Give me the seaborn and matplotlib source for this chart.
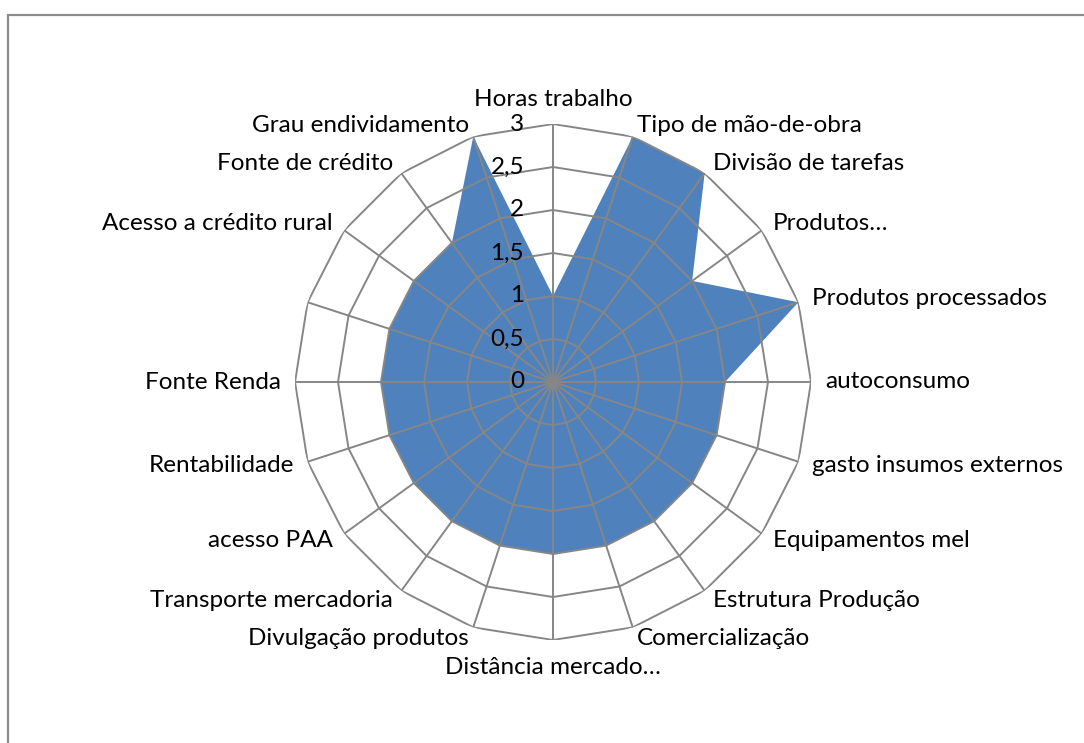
import numpy as np
import matplotlib
matplotlib.use("Agg")
import matplotlib.pyplot as plt
import seaborn as sns
from matplotlib.patches import Rectangle

# ---- data ----
categories = [
    "Horas trabalho", "Tipo de mão-de-obra", "Divisão de tarefas", "Produtos…",
    "Produtos processados", "autoconsumo", "gasto insumos externos",
    "Equipamentos mel", "Estrutura Produção", "Comercialização",
    "Distância mercado…", "Divulgação produtos", "Transporte mercadoria",
    "acesso PAA", "Rentabilidade", "Fonte Renda", "",
    "Acesso a crédito rural", "Fonte de crédito", "Grau endividamento",
]
values = [1, 3, 3, 2, 3, 2, 2, 2, 2, 2, 2, 2, 2, 2, 2, 2, 2, 2, 2, 3]
levels = [0, 0.5, 1, 1.5, 2, 2.5, 3]
level_labels = ["0", "0,5", "1", "1,5", "2", "2,5", "3"]

FILL = "#4F81BD"
GRID = "#868686"

sns.set_theme(style="white")
plt.rcParams["font.family"] = ["Lato", "DejaVu Sans"]

W, H = 1084, 743
fig = plt.figure(figsize=(W / 100, H / 100), dpi=100)
fig.patch.set_facecolor("white")

cx, cy, R = 553, 382, 258
ax = fig.add_axes([(cx - R) / W, (H - cy - R) / H, 2 * R / W, 2 * R / H], projection="polar")
ax.set_theta_zero_location("N")
ax.set_theta_direction(-1)
ax.set_ylim(0, 3)
ax.grid(False)
ax.set_xticks([])
ax.set_yticks([])
ax.spines["polar"].set_visible(False)
ax.set_facecolor("none")

n = len(categories)
theta = np.arange(n) * 2 * np.pi / n
theta_c = np.append(theta, theta[0])
vals_c = np.append(values, values[0])

ax.fill(theta_c, vals_c, color=FILL, lw=0, zorder=1)

for lv in levels[1:]:
    ax.plot(theta_c, [lv] * (n + 1), color=GRID, lw=1.4, zorder=2, solid_joinstyle="miter")
for t in theta:
    ax.plot([t, t], [0, levels[-1]], color=GRID, lw=1.4, zorder=2)

fs = 17.5
for t, lab in zip(theta, categories):
    if not lab:
        continue
    s, c = np.sin(t), np.cos(t)
    if abs(c) > 0.97:
        ha = "center"
        va = "bottom" if c > 0 else "top"
        off = (0, 14) if c > 0 else (0, -17)
    else:
        ha = "left" if s > 0 else "right"
        va = "center"
        off = (14 * s, 12 * c)
    ax.annotate(lab, xy=(t, levels[-1]), xytext=off, textcoords="offset pixels",
                ha=ha, va=va, fontsize=fs, color="black", annotation_clip=False)

for lv, lab in zip(levels, level_labels):
    ax.annotate(lab, xy=(0, lv), xytext=(-29, 0), textcoords="offset pixels",
                ha="right", va="center", fontsize=fs, color="black", annotation_clip=False)

fig.add_artist(Rectangle((8 / W, -0.1), 1.2, (H - 15) / H + 0.1, transform=fig.transFigure,
                         fill=False, edgecolor="#8C8C8C", lw=1.6))

fig.savefig("out.png", dpi=100, facecolor="white")
